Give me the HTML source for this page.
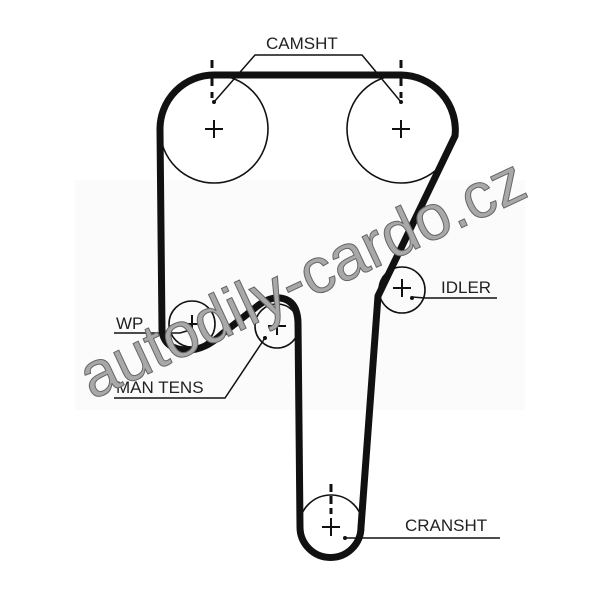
<!DOCTYPE html>
<html><head><style>
html,body{margin:0;padding:0;background:#fff;}
svg{display:block;}
text{font-family:"Liberation Sans",sans-serif;fill:#222;}
</style></head><body>
<svg width="600" height="589" viewBox="0 0 600 589">
<rect x="75" y="180" width="450" height="230" fill="#fbfbfb"/>
<g fill="none" stroke="#111" stroke-width="1.6">
<circle cx="214" cy="129" r="54"/>
<circle cx="401" cy="129" r="54"/>
<circle cx="192" cy="324" r="23"/>
<circle cx="277" cy="326" r="22"/>
<circle cx="402" cy="290" r="23"/>
<circle cx="331" cy="527" r="32"/>
</g>
<g stroke="#111" stroke-width="2">
<path d="M205 129h18M214 120v18M392 129h18M401 120v18M183 324h18M192 315v18M268 326h18M277 317v18M393 288h18M402 279v18M322 527h18M331 518v18"/>
</g>
<g stroke="#111" stroke-width="3">
<path d="M212 60v8M212 76v10M212 92v6M401 60v8M401 76v10M401 92v6M331 484v8M331 496v8M331 508v6"/>
</g>
<path d="M162 330 L160 130 A54 54 0 0 1 214 75 L401 75 A55 55 0 0 1 455 136 L378 296 L361 527 A30 30 0 0 1 300 527 L298 322 Q297 300 280 298 Q268 297 255 308 L222 334 Q205 350 188 350 Q164 350 162 330 Z" fill="none" stroke="#111" stroke-width="7" stroke-linejoin="round"/>
<g fill="none" stroke="#111" stroke-width="1.5">
<polyline points="214,102 255,55 362,55 401,102"/>
<polyline points="114,333 180,333 190,330"/>
<polyline points="114,398 225,398 265,338"/>
<polyline points="412,297 425,298 497,298"/>
<polyline points="345,538 500,538"/>
</g>
<g fill="#111"><circle cx="214" cy="102" r="2"/><circle cx="401" cy="102" r="2"/><circle cx="265" cy="338" r="2"/><circle cx="412" cy="298" r="2"/><circle cx="345" cy="538" r="2"/></g>
<text x="266" y="49" font-size="17">CAMSHT</text>
<text x="116" y="329" font-size="17">WP</text>
<text x="116" y="393" font-size="17">MAN TENS</text>
<text x="441" y="293" font-size="17">IDLER</text>
<text x="405" y="531" font-size="17">CRANSHT</text>
<text x="0" y="0" font-size="64" transform="translate(92,400) rotate(-25)" style="fill:#a8a8a8;stroke:#666;stroke-width:1;font-family:'Liberation Sans',sans-serif">autodily-cardo.cz</text>
</svg>
</body></html>
